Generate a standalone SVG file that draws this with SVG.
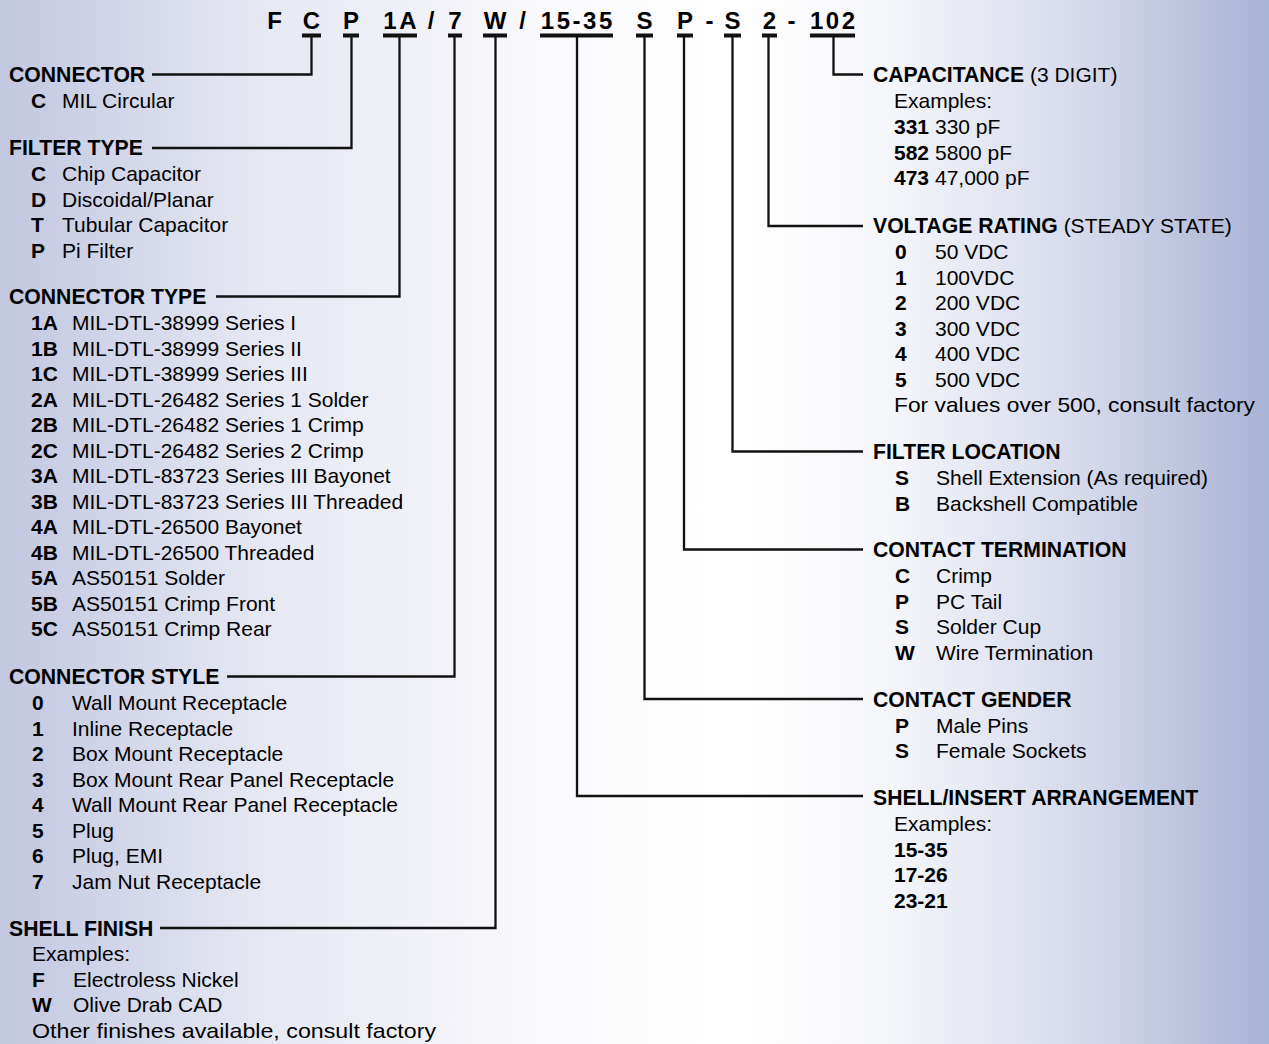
<svg xmlns="http://www.w3.org/2000/svg" width="1269" height="1044" viewBox="0 0 1269 1044">
<defs>
<linearGradient id="bg" x1="0" y1="0" x2="1" y2="0">
<stop offset="0" stop-color="#c2c7e0"/>
<stop offset="0.2" stop-color="#e5e7f2"/>
<stop offset="0.42" stop-color="#f9f9fc"/>
<stop offset="0.58" stop-color="#ffffff"/>
<stop offset="0.7" stop-color="#f5f6fa"/>
<stop offset="0.86" stop-color="#d4d8ea"/>
<stop offset="1" stop-color="#a8b2d4"/>
</linearGradient>
<style>
text{font-family:"Liberation Sans",Arial,sans-serif;fill:#000;font-size:21px}
.h,.b{font-weight:bold}
.h{font-size:21.2px}
.code{font-weight:bold;font-size:24px;text-anchor:middle}
.ls{letter-spacing:2.5px}
.ex{font-family:"Liberation Sans",sans-serif}
.ln{fill:none;stroke:#111;stroke-width:2.3}
.bar{fill:#111}
</style>
</defs>
<rect width="1269" height="1044" fill="url(#bg)"/>

<g id="code">
<text class="code" x="274.5" y="29">F</text>
<text class="code" x="311.5" y="29">C</text>
<text class="code" x="351" y="29">P</text>
<text class="code ls" x="401.2" y="29">1A</text>
<text class="code" x="431" y="29">/</text>
<text class="code" x="455" y="29">7</text>
<text class="code" x="495" y="29">W</text>
<text class="code" x="522.5" y="29">/</text>
<text class="code ls" x="577.8" y="29">15-35</text>
<text class="code" x="644.5" y="29">S</text>
<text class="code" x="685" y="29">P</text>
<text class="code" x="709.5" y="29">-</text>
<text class="code" x="732.5" y="29">S</text>
<text class="code" x="769.5" y="29">2</text>
<text class="code" x="791.5" y="29">-</text>
<text class="code ls" x="833.8" y="29">102</text>
</g>

<g id="connectors">
<rect class="bar" x="302" y="33.5" width="19" height="4"/>
<rect class="bar" x="343" y="33.5" width="16" height="4"/>
<rect class="bar" x="383" y="33.5" width="34" height="4"/>
<rect class="bar" x="448" y="33.5" width="14" height="4"/>
<rect class="bar" x="483" y="33.5" width="24" height="4"/>
<rect class="bar" x="540" y="33.5" width="73" height="4"/>
<rect class="bar" x="636" y="33.5" width="17" height="4"/>
<rect class="bar" x="677" y="33.5" width="16" height="4"/>
<rect class="bar" x="724" y="33.5" width="17" height="4"/>
<rect class="bar" x="762" y="33.5" width="15" height="4"/>
<rect class="bar" x="810" y="33.5" width="45" height="4"/>
<polyline class="ln" points="152,74.5 311.5,74.5 311.5,37"/>
<polyline class="ln" points="152,148 351.5,148 351.5,37"/>
<polyline class="ln" points="216,296.5 399.5,296.5 399.5,37"/>
<polyline class="ln" points="227,676.5 454.5,676.5 454.5,37"/>
<polyline class="ln" points="160,928 495.5,928 495.5,37"/>
<polyline class="ln" points="863,74.5 833.5,74.5 833.5,37"/>
<polyline class="ln" points="863,226 768.5,226 768.5,37"/>
<polyline class="ln" points="863,451.5 732.5,451.5 732.5,37"/>
<polyline class="ln" points="863,549.5 684,549.5 684,37"/>
<polyline class="ln" points="863,699 644.5,699 644.5,37"/>
<polyline class="ln" points="863,796 577,796 577,37"/>
</g>

<g id="connector">
<text class="h" x="9" y="82">CONNECTOR</text>
<text x="31" y="108"><tspan class="b">C</tspan><tspan x="62">MIL Circular</tspan></text>
</g>

<g id="filter-type">
<text class="h" x="9" y="155">FILTER TYPE</text>
<text x="31" y="181"><tspan class="b">C</tspan><tspan x="62">Chip Capacitor</tspan></text>
<text x="31" y="206.5"><tspan class="b">D</tspan><tspan x="62">Discoidal/Planar</tspan></text>
<text x="31" y="232"><tspan class="b">T</tspan><tspan x="62">Tubular Capacitor</tspan></text>
<text x="31" y="257.5"><tspan class="b">P</tspan><tspan x="62">Pi Filter</tspan></text>
</g>

<g id="connector-type">
<text class="h" x="9" y="304">CONNECTOR TYPE</text>
<text x="31" y="330"><tspan class="b">1A</tspan><tspan x="72">MIL-DTL-38999 Series I</tspan></text>
<text x="31" y="355.5"><tspan class="b">1B</tspan><tspan x="72">MIL-DTL-38999 Series II</tspan></text>
<text x="31" y="381"><tspan class="b">1C</tspan><tspan x="72">MIL-DTL-38999 Series III</tspan></text>
<text x="31" y="406.5"><tspan class="b">2A</tspan><tspan x="72">MIL-DTL-26482 Series 1 Solder</tspan></text>
<text x="31" y="432"><tspan class="b">2B</tspan><tspan x="72">MIL-DTL-26482 Series 1 Crimp</tspan></text>
<text x="31" y="457.5"><tspan class="b">2C</tspan><tspan x="72">MIL-DTL-26482 Series 2 Crimp</tspan></text>
<text x="31" y="483"><tspan class="b">3A</tspan><tspan x="72">MIL-DTL-83723 Series III Bayonet</tspan></text>
<text x="31" y="508.5"><tspan class="b">3B</tspan><tspan x="72">MIL-DTL-83723 Series III Threaded</tspan></text>
<text x="31" y="534"><tspan class="b">4A</tspan><tspan x="72">MIL-DTL-26500 Bayonet</tspan></text>
<text x="31" y="559.5"><tspan class="b">4B</tspan><tspan x="72">MIL-DTL-26500 Threaded</tspan></text>
<text x="31" y="585"><tspan class="b">5A</tspan><tspan x="72">AS50151 Solder</tspan></text>
<text x="31" y="610.5"><tspan class="b">5B</tspan><tspan x="72">AS50151 Crimp Front</tspan></text>
<text x="31" y="636"><tspan class="b">5C</tspan><tspan x="72">AS50151 Crimp Rear</tspan></text>
</g>

<g id="connector-style">
<text class="h" x="9" y="684">CONNECTOR STYLE</text>
<text x="32" y="710"><tspan class="b">0</tspan><tspan x="72">Wall Mount Receptacle</tspan></text>
<text x="32" y="735.5"><tspan class="b">1</tspan><tspan x="72">Inline Receptacle</tspan></text>
<text x="32" y="761"><tspan class="b">2</tspan><tspan x="72">Box Mount Receptacle</tspan></text>
<text x="32" y="786.5"><tspan class="b">3</tspan><tspan x="72">Box Mount Rear Panel Receptacle</tspan></text>
<text x="32" y="812"><tspan class="b">4</tspan><tspan x="72">Wall Mount Rear Panel Receptacle</tspan></text>
<text x="32" y="837.5"><tspan class="b">5</tspan><tspan x="72">Plug</tspan></text>
<text x="32" y="863"><tspan class="b">6</tspan><tspan x="72">Plug, EMI</tspan></text>
<text x="32" y="888.5"><tspan class="b">7</tspan><tspan x="72">Jam Nut Receptacle</tspan></text>
</g>

<g id="shell-finish">
<text class="h" x="9" y="936">SHELL FINISH</text>
<text class="ex" x="32" y="961" textLength="98" lengthAdjust="spacingAndGlyphs">Examples:</text>
<text x="32" y="987"><tspan class="b">F</tspan><tspan x="73">Electroless Nickel</tspan></text>
<text x="32" y="1012"><tspan class="b">W</tspan><tspan x="73">Olive Drab CAD</tspan></text>
<text class="ex" x="32" y="1038" textLength="404" lengthAdjust="spacingAndGlyphs">Other finishes available, consult factory</text>
</g>

<g id="capacitance">
<text x="873" y="82"><tspan class="h">CAPACITANCE</tspan> (3 DIGIT)</text>
<text class="ex" x="894" y="108" textLength="98" lengthAdjust="spacingAndGlyphs">Examples:</text>
<text x="894" y="134"><tspan class="b">331</tspan><tspan x="935">330 pF</tspan></text>
<text x="894" y="159.5"><tspan class="b">582</tspan><tspan x="935">5800 pF</tspan></text>
<text x="894" y="185"><tspan class="b">473</tspan><tspan x="935">47,000 pF</tspan></text>
</g>

<g id="voltage-rating">
<text x="873" y="233"><tspan class="h">VOLTAGE RATING</tspan> (STEADY STATE)</text>
<text x="895" y="259"><tspan class="b">0</tspan><tspan x="935">50 VDC</tspan></text>
<text x="895" y="284.5"><tspan class="b">1</tspan><tspan x="935">100VDC</tspan></text>
<text x="895" y="310"><tspan class="b">2</tspan><tspan x="935">200 VDC</tspan></text>
<text x="895" y="335.5"><tspan class="b">3</tspan><tspan x="935">300 VDC</tspan></text>
<text x="895" y="361"><tspan class="b">4</tspan><tspan x="935">400 VDC</tspan></text>
<text x="895" y="386.5"><tspan class="b">5</tspan><tspan x="935">500 VDC</tspan></text>
<text class="ex" x="894" y="412" textLength="361" lengthAdjust="spacingAndGlyphs">For values over 500, consult factory</text>
</g>

<g id="filter-location">
<text class="h" x="873" y="459">FILTER LOCATION</text>
<text x="895" y="485"><tspan class="b">S</tspan><tspan x="936">Shell Extension (As required)</tspan></text>
<text x="895" y="510.5"><tspan class="b">B</tspan><tspan x="936">Backshell Compatible</tspan></text>
</g>

<g id="contact-termination">
<text class="h" x="873" y="557">CONTACT TERMINATION</text>
<text x="895" y="583"><tspan class="b">C</tspan><tspan x="936">Crimp</tspan></text>
<text x="895" y="608.5"><tspan class="b">P</tspan><tspan x="936">PC Tail</tspan></text>
<text x="895" y="634"><tspan class="b">S</tspan><tspan x="936">Solder Cup</tspan></text>
<text x="895" y="659.5"><tspan class="b">W</tspan><tspan x="936">Wire Termination</tspan></text>
</g>

<g id="contact-gender">
<text class="h" x="873" y="707">CONTACT GENDER</text>
<text x="895" y="732.5"><tspan class="b">P</tspan><tspan x="936">Male Pins</tspan></text>
<text x="895" y="758"><tspan class="b">S</tspan><tspan x="936">Female Sockets</tspan></text>
</g>

<g id="shell-insert-arrangement">
<text class="h" x="873" y="805">SHELL/INSERT ARRANGEMENT</text>
<text class="ex" x="894" y="831" textLength="98" lengthAdjust="spacingAndGlyphs">Examples:</text>
<text class="b" x="894" y="857">15-35</text>
<text class="b" x="894" y="882">17-26</text>
<text class="b" x="894" y="907.5">23-21</text>
</g>
</svg>
